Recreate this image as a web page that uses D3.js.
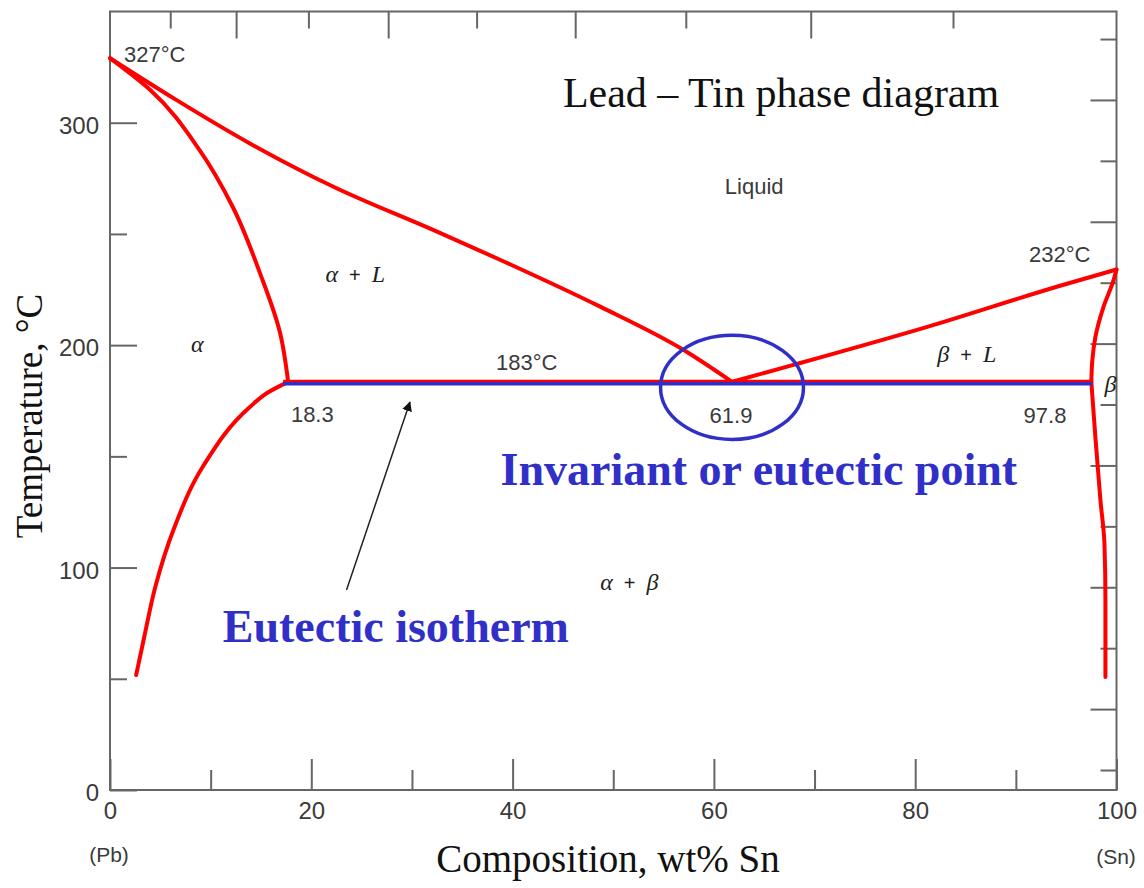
<!DOCTYPE html>
<html>
<head>
<meta charset="utf-8">
<script src="https://cdn.jsdelivr.net/npm/d3@7/dist/d3.min.js"></script>
<style>
  html, body { margin: 0; padding: 0; background: #fff; }
  svg { display: block; }
</style>
</head>
<body>
<svg id="chart" width="1144" height="888"></svg>
<script>
// ---------------- DATA ----------------
// [wt% Sn, temperature °C]
const liquidusLeft  = [[0, 329], [6.5, 310.5], [13.9, 290.7], [22.2, 271.2], [32.1, 251.8], [38.8, 238.3], [48.7, 217.3], [57.0, 197.8], [61.8, 183.5]];
const solidusLeft   = [[0, 329], [4.0, 314.7], [8.9, 287.7], [12.2, 262.1], [14.9, 232.4], [16.9, 205.5], [17.7, 183.5]];
const solvusLeft    = [[17.7, 183.5], [15.6, 178.5], [13.9, 172.2], [9.2, 145.2], [6.3, 116.9], [4.5, 91.3], [3.4, 68.8], [2.6, 51.7]];
const liquidusRight = [[61.8, 183.5], [67.9, 191.1], [81.2, 208.2], [94.4, 226.7], [100, 234]];
const solidusRight  = [[100, 234], [99.7, 229.1], [98.7, 217.1], [97.9, 203.6], [97.6, 193.3], [97.5, 183.5]];
const solvusRight   = [[97.5, 183.5], [97.9, 158.7], [98.4, 130.4], [98.8, 111.0], [98.9, 85.4], [98.9, 50.8]];
const eutectic      = { from: 17.2, to: 97.6, temp: 183.5 };
const eutecticRing  = { cx: 61.8, cy: 181, rx: 7.1, ry: 23.4 };
const arrowPts      = [[23.5, 89.9], [29.8, 174.4]];

// axis ticks
const xMajorTicks = [0, 20, 40, 60, 80, 100];
const xMinorTicks = [10, 30, 50, 70, 90];
const yMajorTicks = [0, 100, 200, 300];
const yMinorTicks = [50, 150, 250];
const topMajorAt  = [20, 40, 60, 80];        // at% Sn
const topMinorAt  = [10, 30, 50, 70, 90];
const rightMajorF = [100, 200, 300, 400, 500, 600];   // °F
const rightMinorF = [50, 150, 250, 350, 450, 550, 650];

// labels inside the plot: [text, wt%, °C, anchor]
const regionLabels = [
  ["327°C", 1.4, 327.3, "start"],
  ["232°C", 97.4, 237.4, "end"],
  ["Liquid", 64.0, 268, "middle"],
  ["183°C", 41.4, 188.8, "middle"],
  ["18.3", 20.1, 165.5, "middle"],
  ["61.9", 61.7, 164.8, "middle"],
  ["97.8", 92.9, 164.8, "middle"]
];
// [first, operator, second, wt%, °C]
const phaseLabels = [
  ["α", null, null, 8.05, 197],
  ["α", "+", "L", 21.4, 228.4],
  ["β", "+", "L", 82.2, 192.4],
  ["α", "+", "β", 48.7, 90],
  ["β", null, null, 98.8, 179]
];

// ---------------- SCALES ----------------
const svg = d3.select("#chart");
const x = d3.scaleLinear().domain([0, 100]).range([110, 1116.5]);
const y = d3.scaleLinear().domain([0, 350]).range([790, 11.5]);
const yF = d3.scaleLinear().domain([33.6, 672.6]).range([790, 11.5]);
const MPb = 207.2, MSn = 118.71;
const atToWt = a => 100 * a * MSn / (a * MSn + (100 - a) * MPb);

const RED = "#ff0000", BLUE = "#3030c8", AXIS = "#666", TXT = "#3a3a3a";
const sans = "'Liberation Sans', Arial, sans-serif";
const serif = "'Liberation Serif', 'Times New Roman', serif";

// ---------------- AXES ----------------
function styleAxis(g) {
  g.select(".domain").remove();
  g.selectAll(".tick line").attr("stroke", AXIS).attr("stroke-width", 2);
  g.selectAll(".tick text").attr("fill", TXT).style("font-family", sans).style("font-size", "24px");
}
const H = y(0), T = y(350), L = x(0), R = x(100);

svg.append("g").attr("transform", `translate(0,${H})`)
  .call(d3.axisBottom(x).tickValues(xMajorTicks).tickSize(-31).tickPadding(12).tickFormat(d3.format("d")))
  .call(styleAxis);
svg.append("g").attr("transform", `translate(0,${H})`)
  .call(d3.axisBottom(x).tickValues(xMinorTicks).tickSize(-20).tickFormat(""))
  .call(styleAxis);

svg.append("g").attr("transform", `translate(${L},0)`)
  .call(d3.axisLeft(y).tickValues(yMajorTicks).tickSize(-27).tickPadding(11).tickFormat(d3.format("d")))
  .call(styleAxis)
  .call(g => g.selectAll(".tick text").attr("dy", "0.45em"));
svg.append("g").attr("transform", `translate(${L},0)`)
  .call(d3.axisLeft(y).tickValues(yMinorTicks).tickSize(-17).tickFormat(""))
  .call(styleAxis);

svg.append("g").attr("transform", `translate(0,${T})`)
  .call(d3.axisTop(x).tickValues(topMajorAt.map(atToWt)).tickSize(-27).tickFormat(""))
  .call(styleAxis);
svg.append("g").attr("transform", `translate(0,${T})`)
  .call(d3.axisTop(x).tickValues(topMinorAt.map(atToWt)).tickSize(-17).tickFormat(""))
  .call(styleAxis);

svg.append("g").attr("transform", `translate(${R},0)`)
  .call(d3.axisRight(yF).tickValues(rightMajorF).tickSize(-26).tickFormat(""))
  .call(styleAxis);
svg.append("g").attr("transform", `translate(${R},0)`)
  .call(d3.axisRight(yF).tickValues(rightMinorF).tickSize(-16).tickFormat(""))
  .call(styleAxis);

// frame
svg.append("rect").attr("x", L).attr("y", T).attr("width", R - L).attr("height", H - T)
  .attr("fill", "none").attr("stroke", AXIS).attr("stroke-width", 2);

// ---------------- PHASE BOUNDARIES ----------------
const lineX = d3.line().x(d => x(d[0])).y(d => y(d[1])).curve(d3.curveMonotoneX);
const lineY = d3.line().x(d => x(d[0])).y(d => y(d[1])).curve(d3.curveMonotoneY);
function boundary(pts, gen) {
  svg.append("path").attr("d", gen(pts)).attr("fill", "none")
    .attr("stroke", RED).attr("stroke-width", 4)
    .attr("stroke-linecap", "round").attr("stroke-linejoin", "round");
}
boundary(liquidusLeft, lineX);
boundary(liquidusRight, lineX);
boundary(solidusLeft, lineY);
boundary(solvusLeft, lineY);
boundary(solidusRight, lineY);
boundary(solvusRight, lineY);

// eutectic isotherm (red under blue)
svg.append("line")
  .attr("x1", x(eutectic.from)).attr("x2", x(eutectic.to))
  .attr("y1", y(eutectic.temp)).attr("y2", y(eutectic.temp))
  .attr("stroke", RED).attr("stroke-width", 4);
svg.append("line")
  .attr("x1", x(eutectic.from)).attr("x2", x(eutectic.to))
  .attr("y1", y(eutectic.temp)).attr("y2", y(eutectic.temp))
  .attr("transform", "translate(0,1.8)")
  .attr("stroke", BLUE).attr("stroke-width", 3.5);

// ellipse around eutectic point
svg.append("ellipse")
  .attr("cx", x(eutecticRing.cx)).attr("cy", y(eutecticRing.cy))
  .attr("rx", x(eutecticRing.rx) - x(0)).attr("ry", y(0) - y(eutecticRing.ry))
  .attr("fill", "none").attr("stroke", BLUE).attr("stroke-width", 3.5);

// arrow
svg.append("defs").append("marker")
  .attr("id", "arrowhead").attr("viewBox", "0 0 10 10").attr("refX", 9).attr("refY", 5)
  .attr("markerWidth", 10).attr("markerHeight", 10).attr("markerUnits", "userSpaceOnUse")
  .attr("orient", "auto")
  .append("path").attr("d", "M0,0 L10,5 L0,10 Z").attr("fill", "#111");
svg.append("line")
  .attr("x1", x(arrowPts[0][0])).attr("y1", y(arrowPts[0][1]))
  .attr("x2", x(arrowPts[1][0])).attr("y2", y(arrowPts[1][1]))
  .attr("stroke", "#222").attr("stroke-width", 1.5).attr("marker-end", "url(#arrowhead)");

// ---------------- TEXT ----------------
regionLabels.forEach(([t, cx, cy, anchor]) => {
  svg.append("text").attr("x", x(cx)).attr("y", y(cy)).attr("text-anchor", anchor)
    .attr("fill", TXT).style("font-family", sans).style("font-size", "22px").text(t);
});

phaseLabels.forEach(([a, op, b, cx, cy]) => {
  const t = svg.append("text").attr("x", x(cx)).attr("y", y(cy))
    .attr("fill", "#222").style("font-family", serif).style("font-size", "24px");
  t.append("tspan").style("font-style", "italic").text(a);
  if (op) {
    t.append("tspan").attr("dx", 11).style("font-family", sans).style("font-size", "20px").text(op);
    t.append("tspan").attr("dx", 11).style("font-style", "italic").text(b);
  }
});

svg.append("text").attr("x", x(45.0)).attr("y", y(307))
  .attr("fill", "#111").style("font-family", serif).style("font-size", "42px")
  .text("Lead – Tin phase diagram");

svg.append("text").attr("x", x(38.8)).attr("y", y(137.1))
  .attr("fill", BLUE).style("font-family", serif).style("font-size", "46px").style("font-weight", "bold")
  .text("Invariant or eutectic point");

svg.append("text").attr("x", x(11.2)).attr("y", y(66.5))
  .attr("fill", BLUE).style("font-family", serif).style("font-size", "46px").style("font-weight", "bold")
  .text("Eutectic isotherm");

// axis titles
svg.append("text").attr("transform", `translate(42,416) rotate(-90)`).attr("text-anchor", "middle")
  .attr("fill", "#111").style("font-family", serif).style("font-size", "37px")
  .text("Temperature, °C");
svg.append("text").attr("x", 608).attr("y", 872).attr("text-anchor", "middle")
  .attr("fill", "#111").style("font-family", serif).style("font-size", "39px")
  .text("Composition, wt% Sn");
svg.append("text").attr("x", 109).attr("y", 862).attr("text-anchor", "middle")
  .attr("fill", TXT).style("font-family", sans).style("font-size", "21px").text("(Pb)");
svg.append("text").attr("x", 1116).attr("y", 864).attr("text-anchor", "middle")
  .attr("fill", TXT).style("font-family", sans).style("font-size", "21px").text("(Sn)");
</script>
</body>
</html>
